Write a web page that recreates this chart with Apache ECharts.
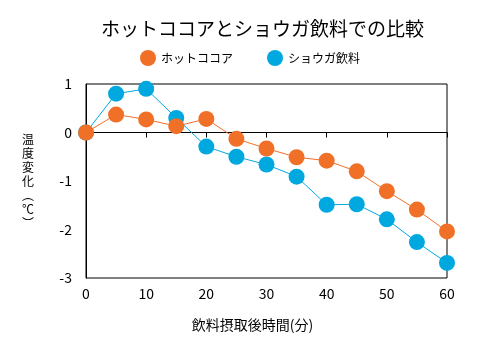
<!DOCTYPE html>
<html><head><meta charset="utf-8">
<script src="https://cdn.jsdelivr.net/npm/echarts@6/dist/echarts.min.js"></script>
<style>html,body{margin:0;padding:0;background:#fff}#c{width:488px;height:342px}</style>
</head><body><div id="c"></div>
<script>
const times = [0,5,10,15,20,25,30,35,40,45,50,55,60];
const cocoa = [0,0.37,0.27,0.13,0.28,-0.13,-0.33,-0.51,-0.58,-0.80,-1.21,-1.59,-2.04];
const ginger = [0,0.80,0.90,0.30,-0.29,-0.50,-0.66,-0.91,-1.49,-1.48,-1.79,-2.26,-2.69];
const seriesNames = ['ホットココア','ショウガ飲料'];
const colors = ['#F07028','#00A8E0'];
const FONT = '"Noto Sans CJK JP", sans-serif';
const chart = echarts.init(document.getElementById('c'), null, {renderer:'canvas'});
chart.setOption({
  animation:false,
  textStyle:{fontFamily:FONT},
  title:{text:'ホットココアとショウガ飲料での比較', left:96, top:14,
    textStyle:{fontFamily:FONT, fontSize:19, fontWeight:'normal', color:'#000'}},
  legend:{top:45, left:135, itemGap:34, itemWidth:16, itemHeight:16, icon:'circle',
    data:seriesNames, textStyle:{fontFamily:FONT, fontSize:12, color:'#000'}},
  grid:{left:86, right:41, top:84, bottom:64, show:true, borderColor:'#000', borderWidth:1},
  xAxis:{type:'value', min:0, max:60, interval:10,
    axisLine:{lineStyle:{color:'#000'}}, axisTick:{show:true, length:5, lineStyle:{color:'#000'}},
    splitLine:{show:false}, axisLabel:{fontSize:14, color:'#000', margin:9},
    name:'飲料摂取後時間(分)', nameLocation:'middle', nameGap:40,
    nameTextStyle:{fontSize:14, color:'#000', padding:[0,28,0,0]}},
  yAxis:{type:'value', min:-3, max:1, interval:1,
    axisLine:{show:true, lineStyle:{color:'#000'}}, axisTick:{show:false},
    splitLine:{show:false}, axisLabel:{fontSize:14, color:'#000', margin:14},
    name:'温\n度\n変\n化\n︵\n℃\n︶', nameLocation:'middle', nameRotate:0, nameGap:52,
    nameTextStyle:{fontSize:12, color:'#000', lineHeight:14, padding:[10,0,0,0]}},
  series:[
    {name:seriesNames[0], type:'line', data:times.map((t,i)=>[t,cocoa[i]]),
      symbol:'circle', symbolSize:16, color:colors[0], lineStyle:{width:1, color:colors[0]}, itemStyle:{color:colors[0]}, z:3},
    {name:seriesNames[1], type:'line', data:times.map((t,i)=>[t,ginger[i]]),
      symbol:'circle', symbolSize:16, color:colors[1], lineStyle:{width:1, color:colors[1]}, itemStyle:{color:colors[1]}, z:2}
  ]
});
</script></body></html>
